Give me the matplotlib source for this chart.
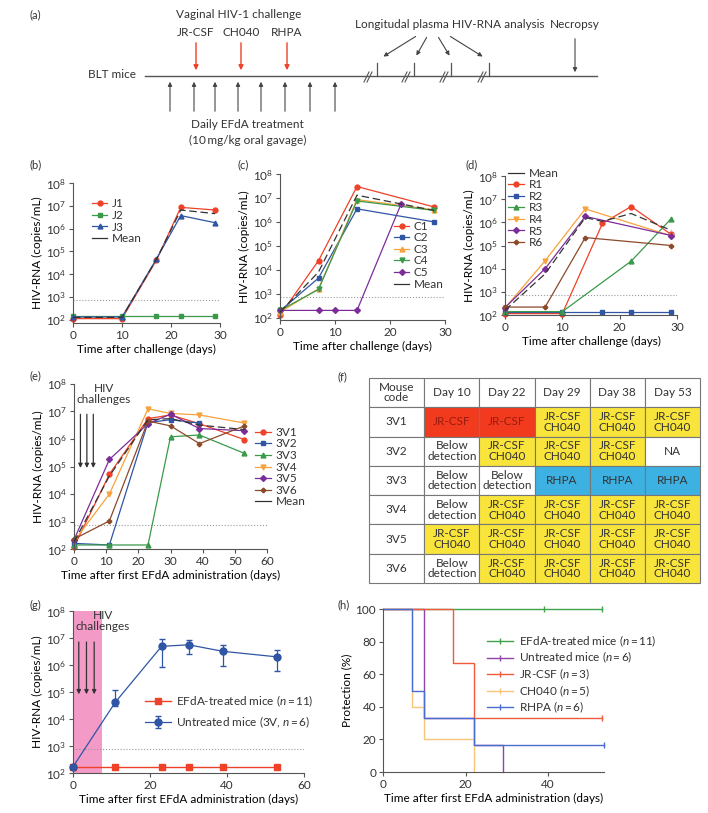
import numpy as np
import matplotlib
matplotlib.use("Agg")
import matplotlib.pyplot as plt
from matplotlib.lines import Line2D

plt.rcParams['font.family'] = ['Lato', 'DejaVu Sans']
plt.rcParams['mathtext.fontset'] = 'custom'
plt.rcParams['mathtext.rm'] = 'Lato'
plt.rcParams['mathtext.it'] = 'Lato:italic'
plt.rcParams['font.size'] = 8
plt.rcParams['text.color'] = '#333333'
plt.rcParams['axes.edgecolor'] = '#555555'
plt.rcParams['xtick.color'] = '#555555'
plt.rcParams['ytick.color'] = '#555555'
plt.rcParams['xtick.labelcolor'] = '#333333'
plt.rcParams['ytick.labelcolor'] = '#333333'

# ---------------- data ----------------
LOD = 750

# (b) JR-CSF challenged
b_days = [0, 10, 17, 22, 29]
J1 = [110, 110, 4.0e4, 8.5e6, 6.5e6]
J2 = [150, 150, 150, 150, 150]
J3 = [130, 130, 4.5e4, 3.7e6, 1.8e6]
b_mean = [125, 125, 4.3e4, 6.5e6, 4.5e6]

# (c) CH040 challenged
c_days = [0, 7, 14, 28]
C1 = [125, 2.4e4, 3.0e7, 4.2e6]
C2 = [190, 4.5e3, 3.5e6, 1.0e6]
C3 = [170, 1.6e3, 8.5e6, 3.2e6]
C4 = [200, 1.5e3, 7.5e6, 3.0e6]
c5_days = [0, 7, 10, 14, 22]
C5 = [200, 200, 200, 200, 5.5e6]
c_mean = [170, 8.0e3, 1.3e7, 3.0e6]

# (d) RHPA challenged
d_days = [0, 10, 17, 22, 29]
R1 = [115, 115, 9.0e5, 4.8e6, 3.0e5]
R2 = [130, 130, 130, 130, 130]
r3_days = [0, 10, 22, 29]
R3 = [140, 140, 2.1e4, 1.45e6]
r4_days = [0, 7, 14, 29]
R4 = [200, 2.2e4, 3.8e6, 2.6e5]
R5 = [210, 1.0e4, 1.8e6, 2.7e5]
R6 = [220, 220, 2.2e5, 1.0e5]
d_mean_days = [0, 7, 14, 17, 22, 29]
d_mean = [160, 6.0e3, 1.6e6, 1.1e6, 2.4e6, 4.5e5]

# (e) untreated mice, 3 viruses
e_days = [0, 11, 23, 30, 39, 53]
V1 = [120, 5.2e4, 5.5e6, 7.5e6, 3.6e6, 9.5e5]
V2 = [160, 140, 4.0e6, 5.0e6, 3.8e6]
V3 = [140, 140, 140, 1.2e6, 1.4e6, 3.0e5]
V4 = [190, 1.0e4, 1.25e7, 8.5e6, 7.5e6, 3.8e6]
V5 = [215, 1.8e5, 3.6e6, 8.0e6, 2.4e6, 2.0e6]
V6 = [230, 1.05e3, 4.5e6, 3.0e6, 6.8e5, 3.0e6]
e_mean = [180, 4.5e4, 5.0e6, 5.5e6, 3.2e6, 2.2e6]
challenge_days_e = [2, 4, 6]

# (f) table
tbl_cols = ['Mouse\ncode', 'Day 10', 'Day 22', 'Day 29', 'Day 38', 'Day 53']
tbl_rows = ['3V1', '3V2', '3V3', '3V4', '3V5', '3V6']
JC = 'JR-CSF\nCH040'
BD = 'Below\ndetection'
tbl_cells = [
    ['JR-CSF', 'JR-CSF', JC, JC, JC],
    [BD, JC, JC, JC, 'NA'],
    [BD, BD, 'RHPA', 'RHPA', 'RHPA'],
    [BD, JC, JC, JC, JC],
    [JC, JC, JC, JC, JC],
    [BD, JC, JC, JC, JC],
]

# (g) group means
g_days = [0, 11, 23, 30, 39, 53]
treated = [170, 170, 170, 170, 170, 170]
untreated = [170, 4.2e4, 4.9e6, 5.6e6, 3.2e6, 2.0e6]
untreated_lo = [170, 3.0e4, 8.5e5, 2.6e6, 9.0e5, 5.8e5]
untreated_hi = [170, 1.2e5, 9.0e6, 8.7e6, 5.6e6, 3.5e6]
challenge_days_g = [1.5, 3.5, 5.5]

# (h) protection curves
efda_t, efda_p = [0, 53], [100, 100]
untr_t, untr_p = [0, 10, 22, 29, 29], [100, 33.3, 16.7, 0, 0]
jr_t, jr_p = [0, 17, 22, 53], [100, 66.7, 33.3, 33.3]
ch_t, ch_p = [0, 7, 10, 22, 22], [100, 40, 20, 0, 0]
rh_t, rh_p = [0, 7, 10, 22, 53.5], [100, 50, 33.3, 16.7, 16.7]

RED = '#ef4128'
BLUE = '#2f55a4'
GREEN = '#3a9a4a'
ORANGE = '#f7a23c'
PURPLE = '#7b2e9a'
BROWN = '#8b4a2a'
DARK = '#333333'

W, H = 708, 813
fig = plt.figure(figsize=(W / 100, H / 100), dpi=100)


def px_axes(l, t, r, b):
    return fig.add_axes([l / W, 1 - b / H, (r - l) / W, (b - t) / H])


# overlay for panel (a) and panel letters
ov = fig.add_axes([0, 0, 1, 1])
ov.set_xlim(0, W)
ov.set_ylim(H, 0)
ov.axis('off')

for lab, x, y in [('(a)', 30, 15), ('(b)', 30, 165), ('(c)', 237, 165), ('(d)', 466, 165),
                  ('(e)', 30, 376), ('(f)', 337, 377), ('(g)', 30, 605), ('(h)', 337, 605)]:
    ov.text(x, y, lab, fontsize=8, ha='left', va='center')

# ---- panel (a) schematic ----
ov.plot([145, 597], [76, 76], color='#555555', lw=1)
ov.text(136, 75, 'BLT mice', ha='right', va='center', fontsize=8.5)
ov.text(239, 15, 'Vaginal HIV-1 challenge', ha='center', va='center', fontsize=8.5)
for name, x in [('JR-CSF', 196), ('CH040', 241), ('RHPA', 287)]:
    ov.text(x, 32, name, ha='center', va='center', fontsize=8.5)
    ov.annotate('', xy=(x, 73), xytext=(x, 40),
                arrowprops=dict(arrowstyle='-|>', color=RED, lw=1, mutation_scale=7))
for x in [170, 194, 215, 238, 261, 285, 310, 335]:
    ov.annotate('', xy=(x, 79), xytext=(x, 114),
                arrowprops=dict(arrowstyle='-|>', color='#444444', lw=0.8, mutation_scale=6))
ov.text(247, 125, 'Daily EFdA treatment', ha='center', va='center', fontsize=8.5)
ov.text(248, 140, '(10\u2009mg/kg oral gavage)', ha='center', va='center', fontsize=8.5)
ov.text(450, 24, 'Longitudal plasma HIV-RNA analysis', ha='center', va='center', fontsize=8.5)
ov.text(575, 24, 'Necropsy', ha='center', va='center', fontsize=8.5)
ov.annotate('', xy=(575, 75), xytext=(575, 36),
            arrowprops=dict(arrowstyle='-|>', color='#444444', lw=0.8, mutation_scale=6))
for xt in [377, 414, 451, 489]:
    ov.plot([xt, xt], [63, 76], color='#555555', lw=0.9)
for xb in [368, 406, 444, 482]:
    ov.plot([xb - 4, xb + 1], [82, 72], color='#555555', lw=0.8)
    ov.plot([xb - 1, xb + 4], [82, 72], color='#555555', lw=0.8)
for (x0, y0), (x1, y1) in [((418, 35), (381, 58)), ((428, 35), (415, 58)),
                           ((437, 35), (451, 58)), ((448, 35), (485, 58))]:
    ov.annotate('', xy=(x1, y1), xytext=(x0, y0),
                arrowprops=dict(arrowstyle='-|>', color='#444444', lw=0.8, mutation_scale=6))


def style_log(ax, xmax, xticks, bottom=1e2):
    ax.set_yscale('log')
    ax.set_ylim(bottom, 1e8)
    ax.set_yticks([1e2, 1e3, 1e4, 1e5, 1e6, 1e7, 1e8])
    ax.yaxis.set_minor_locator(matplotlib.ticker.NullLocator())
    ax.set_xlim(0, xmax)
    ax.set_xticks(xticks)
    for s in ['top', 'right']:
        ax.spines[s].set_visible(False)
    ax.tick_params(length=3, width=0.8, labelsize=8.5, pad=2)
    ax.set_ylabel('HIV-RNA (copies/mL)', fontsize=8.5, labelpad=2)
    ax.axhline(LOD, color='#999999', ls=':', lw=0.8, zorder=1)


def series(ax, x, y, color, marker, label, ms=3.5):
    ax.plot(x, y, color=color, marker=marker, ms=ms, lw=0.9, label=label, clip_on=False)


def mean_line(ax, x, y):
    ax.plot(x, y, color=DARK, lw=0.9, dashes=(6, 3), label='Mean', zorder=5)


def leg(ax, x, y, handles=None, **kw):
    lg = ax.legend(handles=handles, loc='upper left', bbox_to_anchor=(x, y), frameon=False,
                   fontsize=8.5, handlelength=1.3, handletextpad=0.4, labelspacing=0.05,
                   borderpad=0, borderaxespad=0, **kw)
    return lg


def mean_handle():
    return Line2D([], [], color=DARK, lw=0.9, label='Mean')


# ---- (b) ----
ax = px_axes(73, 183, 220, 323)
style_log(ax, 30, [0, 10, 20, 30], bottom=10 ** 1.85)
series(ax, b_days, J1, RED, 'o', 'J1')
series(ax, b_days, J2, GREEN, 's', 'J2')
series(ax, b_days, J3, BLUE, '^', 'J3')
mean_line(ax, b_days, b_mean)
ax.set_xlabel('Time after challenge (days)', fontsize=8.5, labelpad=2)
h, l = ax.get_legend_handles_labels()
leg(ax, 0.13, 0.89, handles=h[:3] + [mean_handle()])

# ---- (c) ----
ax = px_axes(280, 174, 445, 320)
style_log(ax, 30, [0, 10, 20, 30], bottom=10 ** 1.9)
series(ax, c_days, C1, RED, 'o', 'C1')
series(ax, c_days, C2, BLUE, 's', 'C2')
series(ax, c_days, C3, ORANGE, '^', 'C3')
series(ax, c_days, C4, GREEN, 'v', 'C4')
series(ax, c5_days, C5, PURPLE, 'D', 'C5', ms=3)
mean_line(ax, c_days, c_mean)
ax.set_xlabel('Time after challenge (days)', fontsize=8.5, labelpad=2)
h, l = ax.get_legend_handles_labels()
leg(ax, 0.69, 0.68, handles=h[:5] + [mean_handle()])

# ---- (d) ----
ax = px_axes(505, 176, 677, 315)
style_log(ax, 30, [0, 10, 20, 30])
series(ax, d_days, R1, RED, 'o', 'R1')
series(ax, d_days, R2, BLUE, 's', 'R2')
series(ax, r3_days, R3, GREEN, '^', 'R3')
series(ax, r4_days, R4, ORANGE, 'v', 'R4')
series(ax, r4_days, R5, PURPLE, 'D', 'R5', ms=3)
series(ax, r4_days, R6, BROWN, 'P', 'R6', ms=3)
mean_line(ax, d_mean_days, d_mean)
ax.set_xlabel('Time after challenge (days)', fontsize=8.5, labelpad=2)
h, l = ax.get_legend_handles_labels()
leg(ax, 0.02, 1.06, handles=[mean_handle()] + h[:6])

# ---- (e) ----
ax = px_axes(74, 384, 267, 549)
style_log(ax, 60, [0, 10, 20, 30, 40, 50, 60])
series(ax, e_days, V1, RED, 'o', '3V1')
series(ax, e_days[:5], V2, BLUE, 's', '3V2')
series(ax, e_days, V3, GREEN, '^', '3V3')
series(ax, e_days, V4, ORANGE, 'v', '3V4')
series(ax, e_days, V5, PURPLE, 'D', '3V5', ms=3)
series(ax, e_days, V6, BROWN, 'P', '3V6', ms=3)
mean_line(ax, e_days, e_mean)
for d in challenge_days_e:
    ax.annotate('', xy=(d, 7e4), xytext=(d, 1e7),
                arrowprops=dict(arrowstyle='-|>', color=DARK, lw=0.9, mutation_scale=6))
ax.text(9.2, 10 ** 8.05, 'HIV\nchallenges', ha='center', va='top', fontsize=8.5, linespacing=1.0)
ax.set_xlabel('Time after first EFdA administration (days)', fontsize=8.5, labelpad=2)
h, l = ax.get_legend_handles_labels()
leg(ax, 0.94, 0.74, handles=h[:6] + [mean_handle()])

# ---- (f) table ----
ax = px_axes(369, 378, 700, 583)
ax.axis('off')
fill = {'JR-CSF': '#f23a1f', JC: '#f9e43c', 'RHPA': '#3db2e2'}
text_rows = [tbl_cols] + [[r] + c for r, c in zip(tbl_rows, tbl_cells)]
colours = [['white'] * 6] + [['white'] + [fill.get(v, 'white') for v in c] for c in tbl_cells]
tb = ax.table(cellText=text_rows, cellColours=colours, cellLoc='center', bbox=[0, 0, 1, 1])
tb.auto_set_font_size(False)
tb.set_fontsize(8.5)
for (r, c), cell in tb.get_celld().items():
    cell.set_edgecolor('#777777')
    cell.set_linewidth(0.8)
    cell.get_text().set_linespacing(0.95)
    if text_rows[r][c] == 'JR-CSF':
        cell.get_text().set_color('#9a1c10')
    else:
        cell.get_text().set_color(DARK)

# ---- (g) ----
ax = px_axes(73, 611, 304, 773)
style_log(ax, 60, [0, 20, 40, 60])
ax.axvspan(0, 7.5, color='#f49ac7', lw=0, zorder=0)
ax.plot(g_days, treated, color=RED, marker='s', ms=5, lw=1, label='EFdA-treated mice ($n$\u2009=\u200911)', clip_on=False)
yerr = [np.array(untreated) - np.array(untreated_lo), np.array(untreated_hi) - np.array(untreated)]
ax.errorbar(g_days, untreated, yerr=yerr, color=BLUE, marker='o', ms=5, lw=0.9, capsize=2.5,
            elinewidth=0.9, label='Untreated mice (3V, $n$\u2009=\u20096)', clip_on=False)
for d in challenge_days_g:
    ax.annotate('', xy=(d, 6.5e4), xytext=(d, 9e6),
                arrowprops=dict(arrowstyle='-|>', color=DARK, lw=0.9, mutation_scale=6))
ax.text(7.8, 10 ** 8.02, 'HIV\nchallenges', ha='center', va='top', fontsize=8.5, linespacing=1.0)
ax.set_xlabel('Time after first EFdA administration (days)', fontsize=8.5, labelpad=2)
lg = ax.legend(loc='upper left', bbox_to_anchor=(0.31, 0.49), frameon=False, fontsize=8.5,
               handlelength=2.2, handletextpad=0.5, labelspacing=0.45, borderpad=0, borderaxespad=0)

# ---- (h) ----
ax = px_axes(383, 609, 604, 772)
ax.set_xlim(0, 53.5)
ax.set_ylim(0, 100)
ax.set_xticks([0, 20, 40])
ax.set_yticks([0, 20, 40, 60, 80, 100])
for s in ['top', 'right']:
    ax.spines[s].set_visible(False)
ax.tick_params(length=3, width=0.8, labelsize=8.5, pad=2)
curves = [(efda_t, efda_p, '#3fa34d', 'EFdA-treated mice ($n$\u2009=\u200911)'),
          (untr_t, untr_p, '#8e44a8', 'Untreated mice ($n$\u2009=\u20096)'),
          (jr_t, jr_p, '#f05a3c', 'JR-CSF ($n$\u2009=\u20093)'),
          (ch_t, ch_p, '#f9c57a', 'CH040 ($n$\u2009=\u20095)'),
          (rh_t, rh_p, '#4a6ccc', 'RHPA ($n$\u2009=\u20096)')]
handles = []
for t, p, col, lab in curves:
    ax.step(t, p, where='post', color=col, lw=1, clip_on=False)
    handles.append(Line2D([], [], color=col, lw=1, marker='|', ms=5, label=lab))
ax.plot([39, 53], [100, 100], ls='none', marker='|', ms=5, color='#3fa34d', clip_on=False)
ax.plot([53], [33.3], ls='none', marker='|', ms=5, color='#f05a3c', clip_on=False)
ax.plot([53.5], [16.7], ls='none', marker='|', ms=5, color='#4a6ccc', clip_on=False)
ax.set_xlabel('Time after first EFdA administration (days)', fontsize=8.5, labelpad=2)
ax.set_ylabel('Protection (%)', fontsize=8.5, labelpad=2)
ax.legend(handles=handles, loc='upper left', bbox_to_anchor=(0.47, 0.85), frameon=False,
          fontsize=8.5, handlelength=2.2, handletextpad=0.5, labelspacing=0.1,
          borderpad=0, borderaxespad=0)

fig.savefig('out.png', dpi=100)
